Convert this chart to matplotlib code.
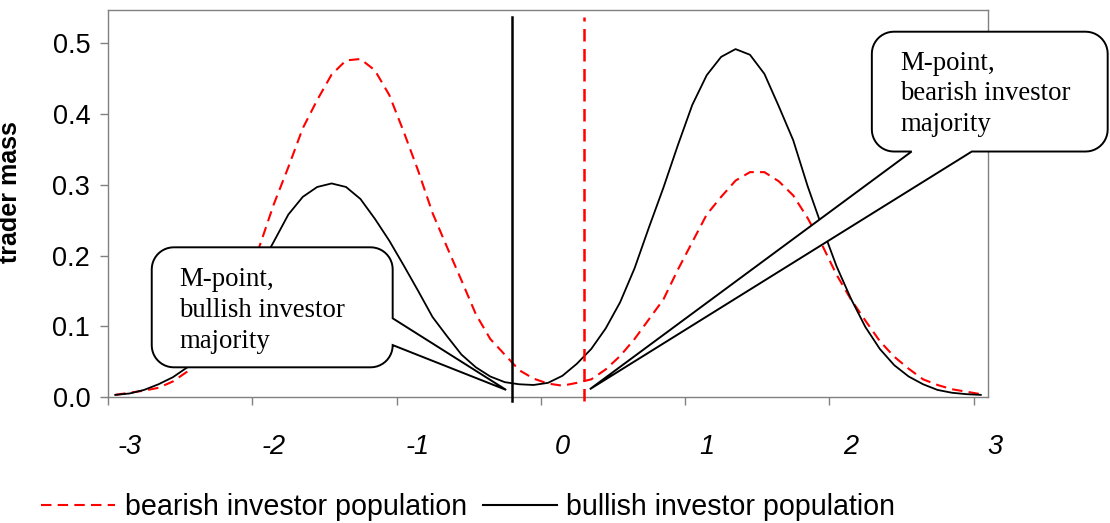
#!/usr/bin/env python3
"""
Trader mass of bearish / bullish investor populations with M-point callouts.
"""

import numpy as np
import matplotlib
matplotlib.use('Agg')
import matplotlib.pyplot as plt
from matplotlib.patches import Polygon
from matplotlib.lines import Line2D
import matplotlib.transforms as mtransforms

# category axis: -3.0 ... 3.0 in steps of 0.1 (61 categories)
x_values = np.round(np.linspace(-3.0, 3.0, 61), 1)

bearish = [0.003, 0.006, 0.009, 0.013, 0.022, 0.036, 0.055, 0.080, 0.115, 0.160,
           0.213, 0.273, 0.325, 0.380, 0.420, 0.456, 0.476, 0.478, 0.462, 0.427,
           0.375, 0.320, 0.260, 0.212, 0.165, 0.117, 0.082, 0.060, 0.038, 0.026,
           0.019, 0.016, 0.020, 0.025, 0.039, 0.058, 0.082, 0.110, 0.138, 0.180,
           0.219, 0.258, 0.283, 0.306, 0.318, 0.318, 0.305, 0.285, 0.253, 0.215,
           0.173, 0.138, 0.108, 0.079, 0.057, 0.040, 0.025, 0.017, 0.011, 0.0075,
           0.004]

bullish = [0.003, 0.005, 0.010, 0.018, 0.028, 0.042, 0.060, 0.085, 0.115, 0.148,
           0.183, 0.220, 0.258, 0.283, 0.297, 0.302, 0.297, 0.280, 0.252, 0.221,
           0.186, 0.150, 0.113, 0.086, 0.060, 0.042, 0.029, 0.021, 0.018, 0.017,
           0.020, 0.030, 0.047, 0.068, 0.097, 0.134, 0.182, 0.240, 0.296, 0.356,
           0.413, 0.455, 0.481, 0.492, 0.484, 0.457, 0.411, 0.363, 0.298, 0.240,
           0.185, 0.139, 0.099, 0.068, 0.045, 0.029, 0.018, 0.010, 0.006, 0.004,
           0.003]

m_bullish = -0.25
m_bearish = 0.25
m_line_top = 0.537

x_tick_labels = ['-3', '-2', '-1', '0', '1', '2', '3']
y_ticks = [0.0, 0.1, 0.2, 0.3, 0.4, 0.5]
series_names = ['bearish investor population', 'bullish investor population']

callout_bull_text = ['M-point,', 'bullish investor', 'majority']
callout_bear_text = ['M-point,', 'bearish investor', 'majority']
tip_bull = (-0.29, 0.010)
tip_bear = (0.29, 0.011)

SANS = ['Liberation Sans', 'DejaVu Sans']
SERIF = ['Liberation Serif', 'DejaVu Serif']


def add_callout(ax, box, side, wedge, tip, lines, text_pos, line_step, r=22):
    """Rounded rectangular callout (Excel style), box given in axes fraction."""
    W, H = ax.bbox.width, ax.bbox.height
    x0, y0, x1, y1 = box[0] * W, box[1] * H, box[2] * W, box[3] * H
    tx, ty = ax.transAxes.inverted().transform(ax.transData.transform(tip))
    tx, ty = tx * W, ty * H

    pts = []

    def arc(cx, cy, a0, a1):
        t = np.radians(np.linspace(a0, a1, 12))
        pts.extend(zip(cx + r * np.cos(t), cy + r * np.sin(t)))

    arc(x1 - r, y1 - r, 90, 0)
    if side == 'right':
        pts.extend([(x1, wedge[0] * H), (tx, ty), (x1, wedge[1] * H)])
    arc(x1 - r, y0 + r, 0, -90)
    if side == 'bottom':
        pts.extend([(wedge[1] * W, y0), (tx, ty), (wedge[0] * W, y0)])
    arc(x0 + r, y0 + r, -90, -180)
    arc(x0 + r, y1 - r, 180, 90)

    verts = np.array(pts) / [W, H]
    poly = Polygon(verts, closed=True, transform=ax.transAxes, facecolor='white',
                   edgecolor='black', linewidth=1.4, clip_on=False, zorder=5)
    ax.add_patch(poly)

    for i, line in enumerate(lines):
        ax.text(text_pos[0], text_pos[1] - i * line_step, line, transform=ax.transAxes,
                ha='left', va='baseline', fontsize=19.3, family=SERIF,
                zorder=6, clip_on=False)


fig = plt.figure(figsize=(11.1, 5.23), dpi=100)
ax = fig.add_axes([108 / 1110, 126 / 523, 880 / 1110, 387.5 / 523])

ax.plot(x_values, bearish, color='red', linewidth=1.5, linestyle=(0, (5, 3)), zorder=3)
ax.plot(x_values, bullish, color='black', linewidth=1.3, zorder=3)

# M-point markers
ax.plot([m_bullish, m_bullish], [-0.005, m_line_top], color='black', linewidth=1.8,
        clip_on=False, zorder=4)
ax.plot([m_bearish, m_bearish], [-0.005, m_line_top], color='red', linewidth=1.8,
        linestyle=(0, (5, 3)), clip_on=False, zorder=4)

ax.set_xlim(-3.05, 3.05)
ax.set_ylim(0, 0.548)

# axes styling
for sp in ax.spines.values():
    sp.set_color('#808080')
    sp.set_linewidth(1.0)

boundaries = [-3.05 + k for k in range(len(x_tick_labels))]
ax.set_xticks(boundaries)
ax.set_xticklabels([])
ax.set_yticks(y_ticks)
ax.set_yticklabels(['%.1f' % v for v in y_ticks], family=SANS, fontsize=19.5)
ax.tick_params(axis='both', direction='out', length=5.8, width=1.0, color='#808080')
ax.tick_params(axis='y', pad=7)

# category labels (italic, shifted right of the tick marks as in the original)
lbl_trans = mtransforms.blended_transform_factory(ax.transData, ax.transAxes)
for b, lab in zip(boundaries, x_tick_labels):
    ax.text(b + 0.15, -0.1479, lab, transform=lbl_trans, ha='center', va='baseline',
            fontsize=19.5, style='italic', family=SANS, clip_on=False)

ax.set_ylabel('trader mass', fontsize=18, fontweight='bold', family=SANS)
ax.yaxis.set_label_coords(-0.098, 0.528)

# callouts
add_callout(ax, (0.0497, 0.0766, 0.3235, 0.3863), 'right', (0.2031, 0.134),
            tip_bull, callout_bull_text, (0.081, 0.2872), 0.0808)
add_callout(ax, (0.868, 0.6335, 1.136, 0.9427), 'bottom', (0.9132, 0.9816),
            tip_bear, callout_bear_text, (0.9003, 0.8439), 0.0782)

# legend
handles = [Line2D([], [], color='red', linewidth=1.5, linestyle=(0, (5, 3))),
           Line2D([], [], color='black', linewidth=1.5)]
fig.legend(handles, series_names, loc='center left', bbox_to_anchor=(41 / 1110, 1 - 507 / 523),
           ncol=2, frameon=False, prop={'family': SANS, 'size': 20.6},
           handlelength=2.6, handletextpad=0.32, columnspacing=0.56,
           borderpad=0, borderaxespad=0)

fig.savefig('out.png', dpi=100)
